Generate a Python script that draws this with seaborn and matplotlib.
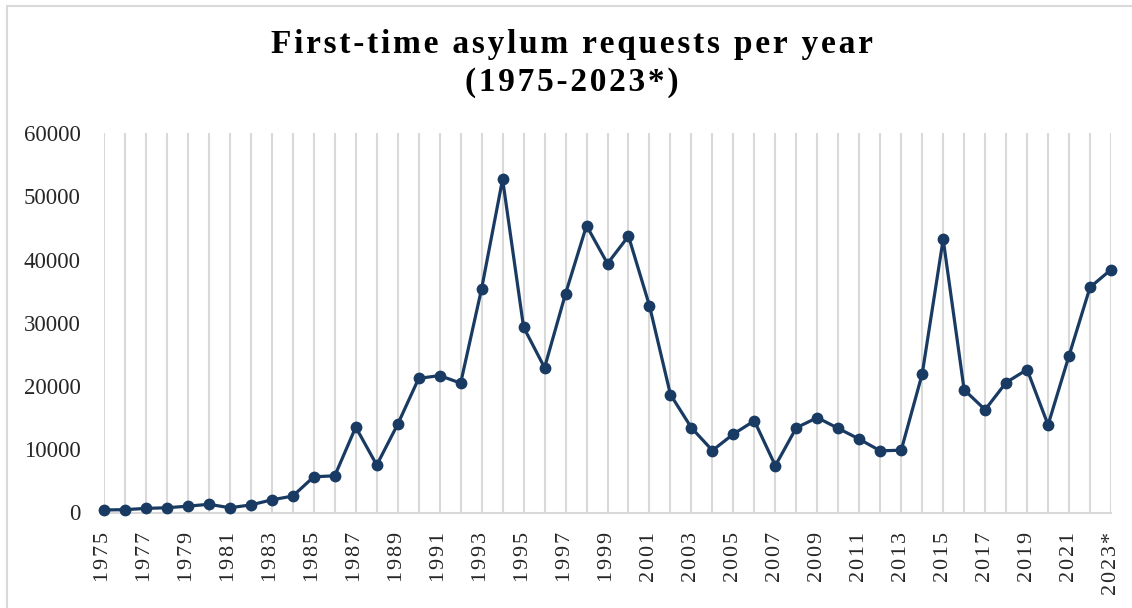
import matplotlib
matplotlib.use("Agg")
import matplotlib.pyplot as plt
import seaborn as sns
import pandas as pd
from matplotlib.patches import Rectangle

years = list(range(1975, 2024))
requests = [
    400, 450, 650, 750, 1000, 1300, 750, 1200, 2000, 2600,
    5650, 5800, 13500, 7500, 13950, 21200, 21650, 20450, 35400, 52700,
    29300, 22900, 34600, 45350, 39350, 43700, 32700, 18650, 13400, 9800,
    12400, 14500, 7400, 13400, 15000, 13300, 11600, 9750, 9850, 21900,
    43200, 19400, 16250, 20550, 22600, 13850, 24800, 35600, 38400,
]
year_labels = [str(y) if (y - 1975) % 2 == 0 else "" for y in years]
year_labels[-1] = "2023*"
y_ticks = [0, 10000, 20000, 30000, 40000, 50000, 60000]

title_line1 = "First-time asylum requests per year"
title_line2 = "(1975-2023*)"

df = pd.DataFrame({"year": years, "requests": requests})

sns.set_theme(style="white")
plt.rcParams["font.family"] = ["Liberation Serif", "DejaVu Serif"]

W, H = 1132, 608
fig = plt.figure(figsize=(W / 100, H / 100), dpi=100)
ax = fig.add_axes([104 / W, 1 - 512.5 / H, (1111 - 104) / W, (512.5 - 133) / H])

line_color = "#193b63"
sns.lineplot(data=df, x="year", y="requests", ax=ax, color=line_color,
             linewidth=2.3, marker="o", markersize=8.5,
             markeredgewidth=0, zorder=3)
for ln in ax.lines:
    ln.set_clip_on(False)


def spaced(s):
    # letter-spaced text
    return "\u200a".join(s)


ax.set_xlim(1975, 2023)
ax.set_ylim(0, 60000)
ax.set_xticks(years)
ax.set_xticklabels([spaced(s) for s in year_labels], rotation=90,
                   fontsize=16, va="top", ha="center")
ax.set_yticks(y_ticks)
ax.set_yticklabels([str(v) for v in y_ticks], fontsize=16.5)
ax.tick_params(axis="both", length=0)
ax.tick_params(axis="y", pad=17)
ax.tick_params(axis="x", pad=14)
ax.set_xlabel("")
ax.set_ylabel("")

ax.grid(axis="x", color="#d9d9d9", linewidth=1.5)
ax.grid(axis="y", visible=False)
for side in ["top", "right", "left"]:
    ax.spines[side].set_visible(False)
ax.spines["bottom"].set_color("#d9d9d9")
ax.spines["bottom"].set_linewidth(1.5)

fig.text(0.505, 1 - 45 / H, spaced(title_line1), ha="center", va="center",
         fontsize=24, fontweight="bold", color="black")
fig.text(0.505, 1 - 82 / H, spaced(title_line2), ha="center", va="center",
         fontsize=24, fontweight="bold", color="black")

fig.patches.append(Rectangle((7 / W, -0.5), 2.0, 1 - 6 / H + 0.5,
                             transform=fig.transFigure, fill=False,
                             edgecolor="#d9d9d9", linewidth=1.5))

fig.savefig("out.png", dpi=100, facecolor="white")
